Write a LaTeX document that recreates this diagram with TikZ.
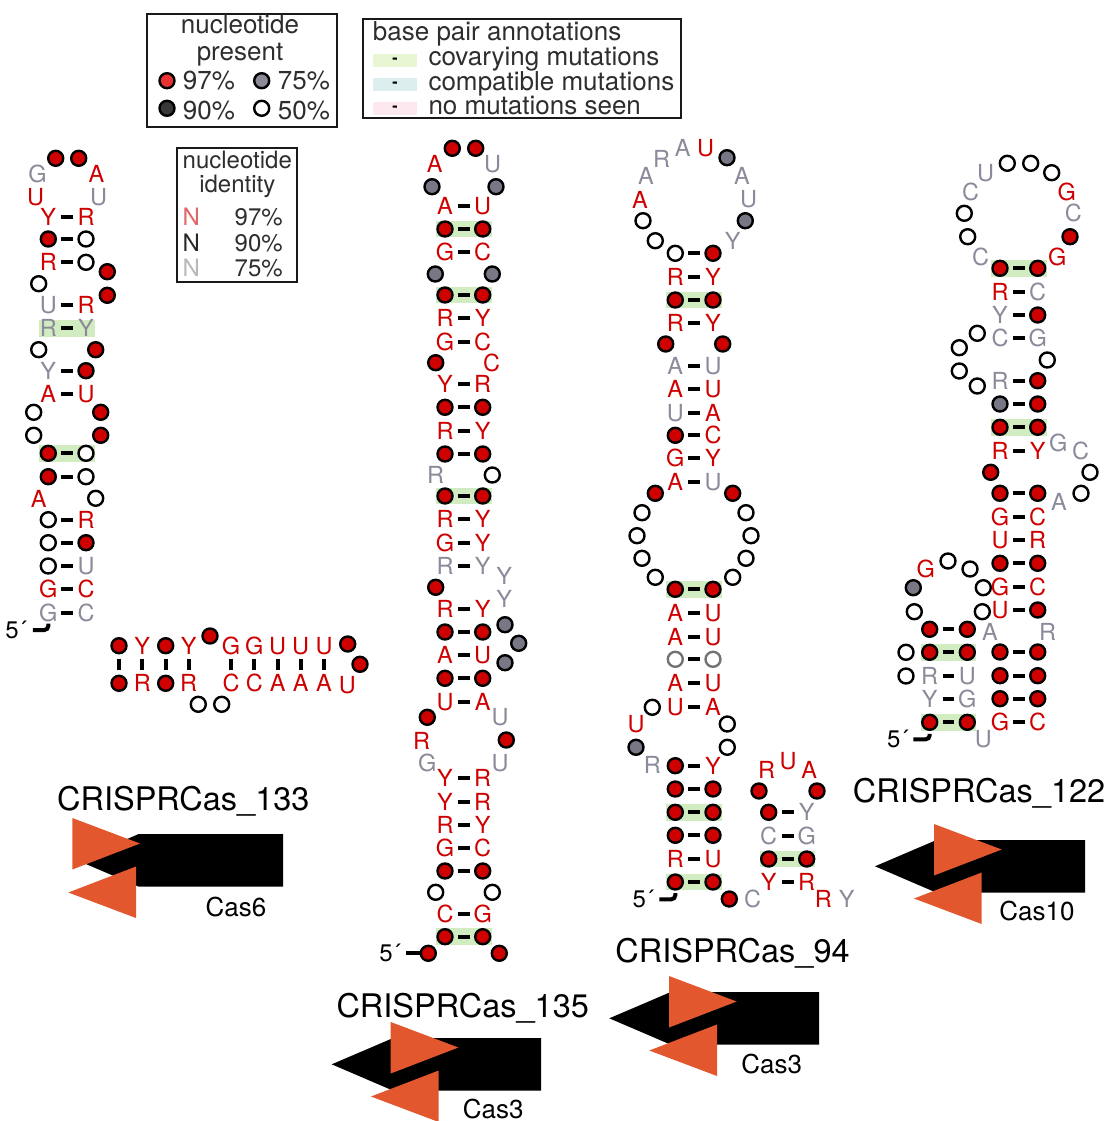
\documentclass[tikz,border=0pt]{standalone}
\usepackage{fontspec}
\setmainfont{TeX Gyre Heros}
\usepackage{tikz}
\usetikzlibrary{arrows.meta, positioning}

\definecolor{ntred}{HTML}{CE0000}
\definecolor{ntgray}{HTML}{8A8A9A}
\definecolor{dotgray}{HTML}{777786}
\definecolor{covgreen}{HTML}{D2ECC2}
\definecolor{geneorange}{HTML}{E2572E}
\definecolor{swgreen}{HTML}{E8F6D4}
\definecolor{swteal}{HTML}{DCEEEE}
\definecolor{swpink}{HTML}{FCE8EE}

\tikzset{
  % letters and dots of the consensus
  ntletter/.style={inner sep=0pt, text height=16.9pt, text depth=0pt,
    font=\fontsize{23.5}{26}\selectfont},
  rl/.style={ntletter, text=ntred},
  gl/.style={ntletter, text=ntgray},
  rA/.style={rl, node contents=A}, rC/.style={rl, node contents=C},
  rG/.style={rl, node contents=G}, rR/.style={rl, node contents=R},
  rU/.style={rl, node contents=U}, rY/.style={rl, node contents=Y},
  gA/.style={gl, node contents=A}, gC/.style={gl, node contents=C},
  gG/.style={gl, node contents=G}, gR/.style={gl, node contents=R},
  gU/.style={gl, node contents=U}, gY/.style={gl, node contents=Y},
  ntdot/.style={circle, inner sep=0pt, minimum size=15pt, line width=2.4pt,
    draw=black, node contents=\relax},
  rd/.style={ntdot, fill=ntred},
  gd/.style={ntdot, fill=dotgray},
  od/.style={ntdot, fill=white},
  pd/.style={ntdot, fill=white, draw=black!55},
  % connectors
  pairbar/.style={line width=4pt, shorten >=12.85pt, shorten <=12.85pt},
  primebar/.style={line width=4pt, rounded corners=4pt},
  % the rest
  covbox/.style={fill=covgreen, inner sep=0pt, minimum width=55.5pt, minimum height=16.5pt},
  primelabel/.style={inner sep=0pt, font=\fontsize{24}{26}\selectfont},
  frame/.style={draw=black!90, line width=2pt},
  legtext/.style={inner sep=0pt, anchor=base, text=black!82, font=\fontsize{26}{30}\selectfont},
  idtext/.style={inner sep=0pt, anchor=base, text=black!82, font=\fontsize{24}{28}\selectfont},
  swatch/.style={inner sep=0pt, minimum width=44.6pt, minimum height=12.6pt,
    font=\fontsize{16}{18}\selectfont\bfseries},
  title/.style={inner sep=0pt, font=\fontsize{32.5}{36}\selectfont},
  genename/.style={inner sep=0pt, font=\fontsize{26}{30}\selectfont},
}

% prefix, left x, right x, rows y/left/right
\newcommand{\stemrows}[4]{%
  \foreach \yy/\lnt/\rnt [count=\i] in {#4} {
    \node (#1a\i) at (#2,\yy) [\lnt];
    \node (#1b\i) at (#3,\yy) [\rnt];
    \draw[pairbar] (#1a\i.center) -- (#1b\i.center);
  }}
% prefix, unpaired x/y/kind
\newcommand{\looprows}[2]{%
  \foreach \xx/\yy/\nt [count=\i] in {#2} {
    \node (#1x\i) at (\xx,\yy) [\nt];
  }}
% tip x, top y, right x, left of first triangle, tip of second triangle
\newcommand{\crisprgene}[5]{%
  \fill[black] (#3,#2) -- (#3,#2+52.7) -- (#1+61.5,#2+52.7) -- (#1,#2+26.3)
    -- (#1+61.5,#2) -- cycle;
  \fill[geneorange] (#4,#2-16) -- (#4,#2+35.5) -- (#4+67.7,#2+9.5) -- cycle;
  \fill[geneorange] (#5+67.7,#2+32.5) -- (#5+67.7,#2+84) -- (#5,#2+58.5) -- cycle;
}

\begin{document}
\begin{tikzpicture}[x=1pt, y=-1pt]
  \useasboundingbox (0,0) rectangle (1108,1121);

  % Covariation shading ----------------------------------------------------
  \foreach \xx/\yy [count=\i] in {67.2/328.3, 67.2/453.3,
      463.9/229, 463.9/295, 463.9/496, 463.9/936.7,
      694.2/300, 694.2/589.3, 694.2/812.3, 694.2/882, 787.7/859,
      1018.9/268.3, 1018.9/427.3, 948.5/652.3, 948.5/722.3} {
    \node[covbox] (cov\i) at (\xx,\yy) {};
  }

  % Legends ----------------------------------------------------------------
  \draw[frame] (147,14) rectangle (337,126.7);
  \node[legtext] (presa) at (240,33.5) {nucleotide};
  \node[legtext] (presb) at (240,60.5) {present};
  \node (dota) at (167,80.7) [ntdot, fill=red!45!ntred!80!white];
  \node (dotb) at (167,108.3) [ntdot, fill=black!78];
  \node (dotc) at (261.7,80.7) [ntdot, fill=dotgray!85!white];
  \node (dotd) at (261.7,108.3) [ntdot, fill=white];
  \node[legtext] (pcta) at (209,89.5) {97\%};
  \node[legtext] (pctb) at (209,119.5) {90\%};
  \node[legtext] (pctc) at (304,89.5) {75\%};
  \node[legtext] (pctd) at (304,119.5) {50\%};

  \draw[frame] (176.7,148.3) rectangle (296.7,282);
  \node[idtext] (ida) at (237.3,168) {nucleotide};
  \node[idtext] (idb) at (237.3,192.5) {identity};
  \node[idtext, text=ntred!60!white] (idn1) at (191.3,225) {N};
  \node[idtext, text=black!85] (idn2) at (191.3,251) {N};
  \node[idtext, text=black!28] (idn3) at (191.3,276.5) {N};
  \node[idtext] (idp1) at (258.7,225) {97\%};
  \node[idtext] (idp2) at (258.7,251) {90\%};
  \node[idtext] (idp3) at (258.7,276.5) {75\%};

  \draw[frame] (363.3,19.3) rectangle (681,118.3);
  \node[legtext, anchor=base west] (bpa) at (372.7,41) {base pair annotations};
  \node[swatch, fill=swgreen] (swa) at (395,60.3) {-};
  \node[swatch, fill=swteal] (swb) at (395,84.5) {-};
  \node[swatch, fill=swpink] (swc) at (395,108.3) {-};
  \node[legtext, anchor=base west] (bpb) at (428.3,66) {covarying mutations};
  \node[legtext, anchor=base west] (bpc) at (428.3,90.5) {compatible mutations};
  \node[legtext, anchor=base west] (bpd) at (428.3,114.5) {no mutations seen};

  % CRISPRCas_133 ----------------------------------------------------------
  \stemrows{ca}{48.3}{86}{216.7/rY/rR, 239/rd/od, 262.3/rR/od, 304.7/gU/rR,
    328.3/gR/gY, 370.7/gY/rd, 394/rA/rU, 453.3/rd/od, 476.7/rd/od,
    519.7/od/rR, 542.7/od/rd, 566/od/gU, 589.3/rG/rC, 612.7/gG/gC}
  \looprows{ca}{55.7/158.3/rd, 78.7/158.3/rd, 37.5/174/gG, 96.5/174/rA,
    35.5/197.5/rU, 98.7/197.5/gU, 107.3/271.7/rd, 107.3/295.3/rd,
    38.7/283.7/od, 38.7/349.7/od, 95.7/349.7/rd, 33.7/412.3/od,
    100.7/412.3/rd, 33.7/435.3/od, 100.7/435.3/rd, 38.7/499/rA,
    95.7/498.3/od, 210/636/rd, 198.3/704.3/od, 221.7/704.3/od,
    347.7/644/rd, 360/664.3/rd, 347.3/685/rU}
  \foreach \xx/\lnt/\rnt [count=\i] in {119/rd/rd, 142.3/rY/rR, 165.7/rd/rd,
      188.7/rY/rR, 231/rG/rC, 254.3/rG/rC, 277.7/rU/rA, 300.7/rU/rA, 324/rU/rA} {
    \node (cbt\i) at (\xx,645.7) [\lnt];
    \node (cbb\i) at (\xx,683.3) [\rnt];
    \draw[pairbar] (cbt\i.center) -- (cbb\i.center);
  }
  \node[primelabel] (fiveca) at (16,630) {5´};
  \draw[primebar] ([xshift=6pt]fiveca.east) -| ([yshift=-11pt]caa14.center);

  % CRISPRCas_135 ----------------------------------------------------------
  \stemrows{cb}{445}{482.7}{206/rA/rU, 229/rd/rd, 252.3/rG/rC, 295/rd/rd,
    318.3/rR/rY, 341.7/rG/rC, 384/rY/rR, 407.3/rd/rd, 430.7/rR/rY, 454/rd/rd,
    496/rd/rd, 519.3/rR/rY, 542.7/rG/rY, 566/gR/gY, 608.7/rR/rY, 632/rd/rd,
    655/rA/rU, 678.3/rd/rd, 701.7/rU/rA, 778.3/rY/rR, 801.7/rY/rR, 825/rR/rY,
    848.3/rG/rC, 871/rd/rd, 914/rC/rG, 936.7/rd/rd}
  \looprows{cb}{452.3/148.3/rd, 475.7/148.3/rd, 434.7/164/rA, 492.7/164/gU,
    432/186.7/gd, 496/186.7/gd, 435.3/274/gd, 492.3/274/gd, 435.7/362.7/rd,
    491.7/362.7/rC, 435.7/475/gR, 492.3/475/od, 504.3/575.7/gY, 504.3/599/gY,
    435.7/587.3/rd, 505/624.7/gd, 518.7/643.3/gd, 505/662.7/gd, 427.3/717.3/rd,
    500/717.3/gU, 421.7/740.7/rR, 506.3/740/rd, 427.3/762.7/gG, 500/762.7/gU,
    435.7/892.3/od, 492.3/892.3/od, 428.3/953.3/rd, 499.3/953.3/rd}
  \node[primelabel] (fivecb) at (390,953.3) {5´};
  \draw[primebar] ([xshift=5.2pt]fivecb.east) -- (cbx27.west);

  % CRISPRCas_94 -----------------------------------------------------------
  \stemrows{cc}{675.3}{713}{253.3/od/rd, 276.7/rR/rY, 300/rd/rd, 323.3/rR/rY,
    366/gA/gU, 389.3/rA/rU, 412.7/gU/rA, 435.3/rd/rC, 458.3/rG/rY, 481.7/rA/gU,
    589.3/rd/rd, 613.3/rA/rU, 636.7/rA/rU, 659.3/pd/pd, 683.3/rA/rU, 706.7/rU/rA,
    765.7/rd/rY, 789/rd/rd, 812.3/rd/rd, 835.3/rd/rd, 858.7/rR/rU, 882/rd/rd}
  \looprows{cc}{682.7/148.3/gA, 705.7/148.3/rU, 727/157.7/gd, 742/176/gA,
    748.7/198.7/gU, 745.3/220.7/gd, 732.7/240.7/gY, 661.7/159/gR, 646/176/gA,
    640/200/rA, 643/220.7/od, 655.3/240.7/od, 665.7/344/rd, 722.7/344/rd,
    655.3/493.3/rd, 732.7/493.3/rd, 642/512.7/od, 746/512.7/od, 637/535.7/od,
    751/535.7/od, 642/558.3/od, 746/558.3/od, 655.3/577.3/od, 732.7/577.3/od,
    652.3/707.3/od, 727.3/724/od, 727.3/747.3/od, 636/724.3/rU, 636/747.3/gd,
    652.3/765/gR, 729.3/899/rd, 752.7/899/gC}
  \node[primelabel] (fivecc) at (643.3,899.3) {5´};
  \draw[primebar] ([xshift=5.2pt]fivecc.east) -| ([yshift=-11pt]cca22.center);

  \stemrows{cd}{768.7}{806.7}{812.3/rd/gY, 835.7/gC/gG, 859/rd/rd, 882.3/rY/rR}
  \looprows{cd}{766.7/770/rR, 788/761/rU, 809.3/770/rA, 759/791/rd, 817/791/rd,
    823.3/899.3/rR, 846.7/899.3/gY}

  % CRISPRCas_122 ----------------------------------------------------------
  \stemrows{ce}{1000}{1037.7}{268.3/rd/rd, 291.7/rR/gC, 315/gY/rd, 338.3/gC/gG,
    380.7/gR/rd, 404/gd/rd, 427.3/rd/rd, 450.7/rR/rY, 493.3/rd/rd, 516.7/rG/rC,
    540/rU/rR, 563.3/rd/rd, 586.7/rG/rC, 610/rU/rd, 652/rd/rd, 675.7/rd/rd,
    698.7/rd/rd, 722.3/rG/rC}
  \looprows{ce}{1007.3/163.3/od, 1030.7/163.3/od, 1051.7/172.7/od, 1066.7/191.7/rG,
    1073.3/213.3/gC, 1070/236.7/rd, 1057.3/256.7/rG, 985.7/173.3/gU, 970.7/191.7/gC,
    964.3/213.3/od, 967.7/236.7/od, 980.7/256.7/gC, 977.3/333.3/od, 959.3/347.7/od,
    959.3/371/od, 977.3/386/od, 1047.3/360/od, 1058.3/442.7/gG, 1080.7/450.7/gC,
    1090/472.3/od, 1081/493.3/od, 1059/502.3/gA, 990.7/472.3/rd, 990/631.7/gA,
    1047.7/631.7/gR}
  \stemrows{cf}{929.7}{967.3}{629.3/rd/rd, 652.3/rd/rd, 676/gR/gU, 699.3/gY/gG,
    722.3/rd/rd}
  \looprows{cf}{914.3/611.7/od, 913.3/587.7/gd, 925.7/569/rG, 948/561/od, 970/569/od,
    983.3/587.7/od, 982.3/611.7/od, 906/652.3/od, 906/676/od, 983.3/739.3/gU}
  \node[primelabel] (fivecf) at (897.7,739.3) {5´};
  \draw[primebar] ([xshift=4.8pt]fivecf.east) -| ([yshift=-11.5pt]cfa5.center);

  % Gene glyphs and names --------------------------------------------------
  \crisprgene{77.3}{834}{283}{72.3}{68.3}
  \crisprgene{331.7}{1038}{541}{390.7}{371}
  \crisprgene{609.3}{992}{819}{669}{649.3}
  \crisprgene{875}{840}{1085}{934}{914}

  \node[title] (nameca) at (183.3,801.3) {CRISPRCas\_133};
  \node[title] (namecb) at (462.7,1008) {CRISPRCas\_135};
  \node[title] (namecc) at (732.5,953) {CRISPRCas\_94};
  \node[title] (namece) at (979,793) {CRISPRCas\_122};
  \node[genename] (geneca) at (236,906.7) {Cas6};
  \node[genename] (genecb) at (493.3,1109) {Cas3};
  \node[genename] (genecc) at (771.7,1064.3) {Cas3};
  \node[genename] (genece) at (1037,911) {Cas10};
\end{tikzpicture}
\end{document}
